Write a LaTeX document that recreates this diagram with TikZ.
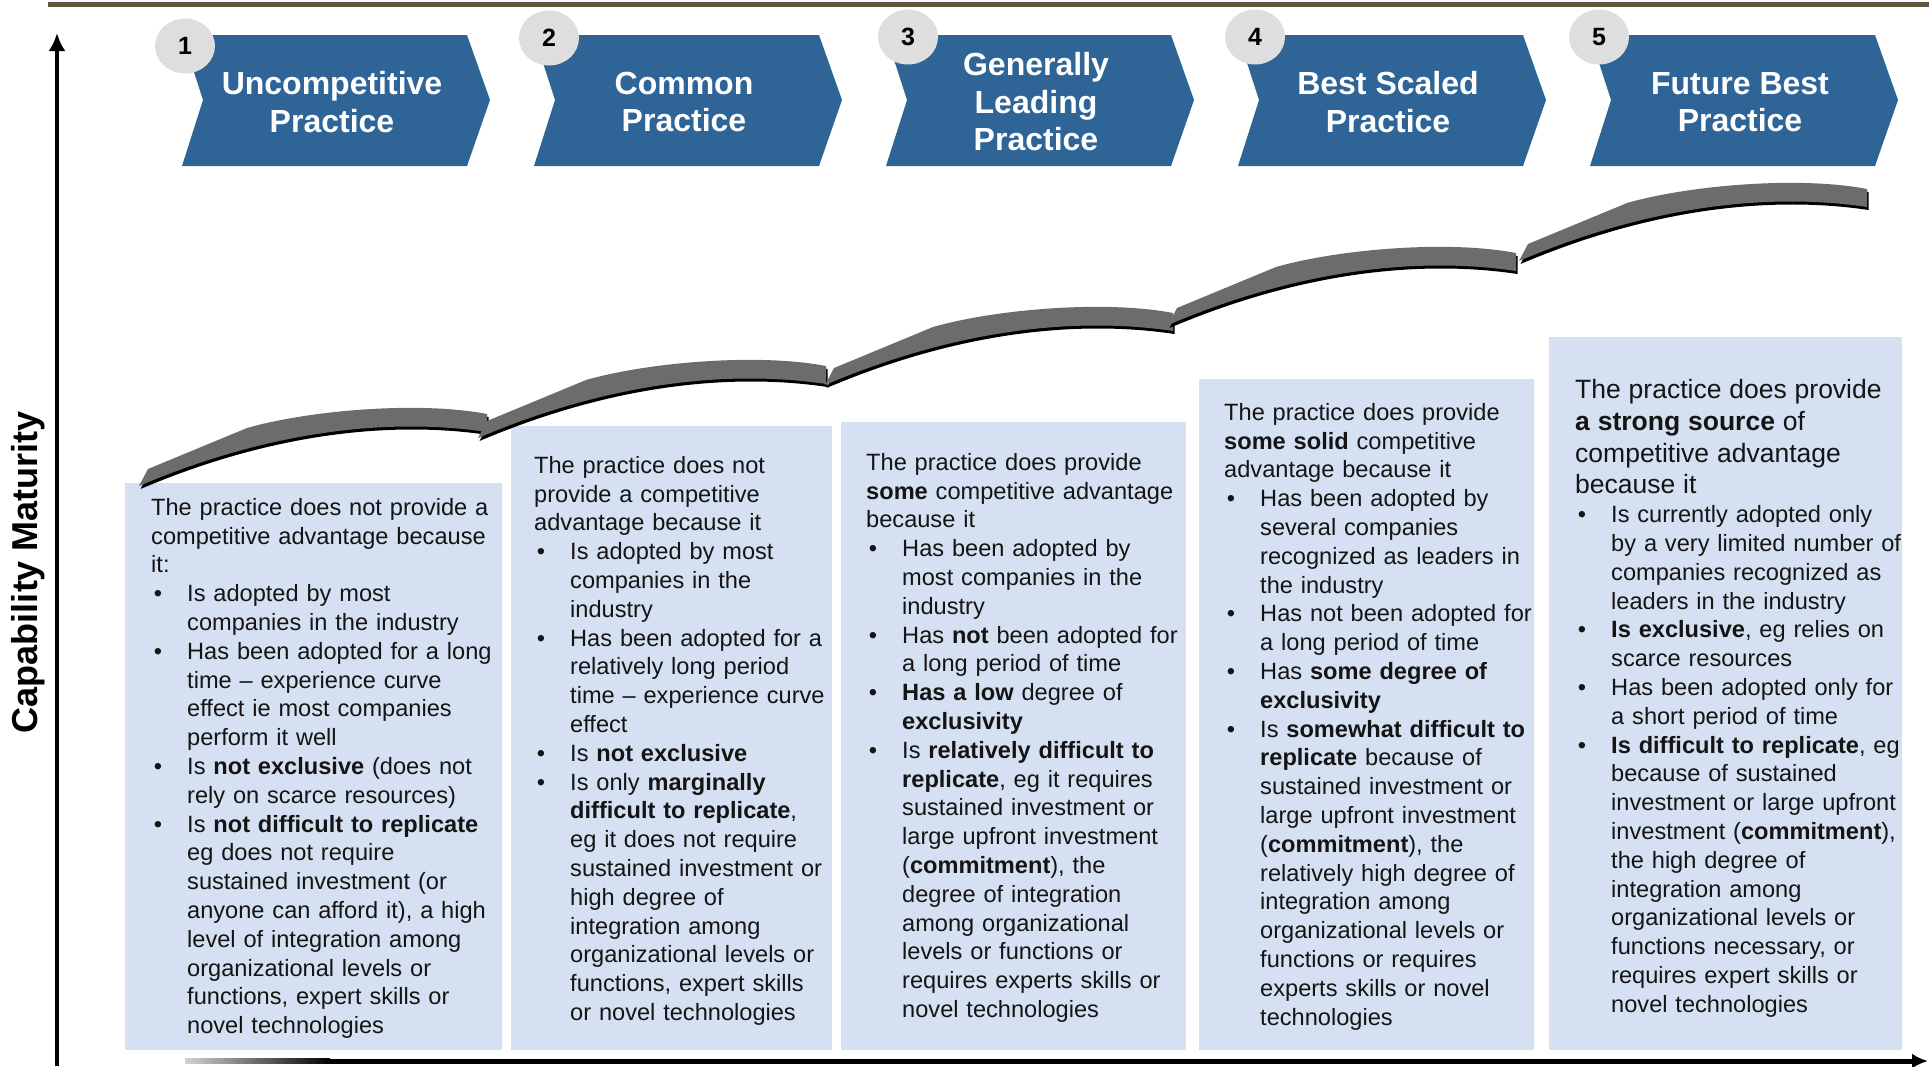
\documentclass[tikz,border=0pt]{standalone}
\usepackage{fontspec}
\setmainfont{Liberation Sans}
\usepackage{enumitem}
\usetikzlibrary{arrows.meta,positioning,shapes.geometric}
\definecolor{cStage}{HTML}{2F6497}
\definecolor{cBadge}{HTML}{DEDEDE}
\definecolor{cPanel}{HTML}{D5E1F2}
\definecolor{cRule}{HTML}{5E5640}
\definecolor{cRibbon}{HTML}{6C6C6C}
\definecolor{cInk}{HTML}{141414}
\setlength\parindent{0pt}
\newlist{pts}{itemize}{1}
\setlist[pts]{label=\textbullet,leftmargin=36pt,labelsep=25pt,
  itemsep=0pt,topsep=0pt,parsep=0pt,partopsep=0pt}
\tikzset{
  stagetext/.style={text=white,align=center,inner sep=0pt,
                    font=\bfseries\fontsize{32}{37.5}\selectfont},
  badge/.style={ellipse,fill=cBadge,minimum width=60pt,minimum height=55pt,
                inner sep=0pt,font=\bfseries\fontsize{25}{25}\selectfont},
  panel/.style={fill=cPanel,anchor=north west,inner sep=0pt},
  blurb/.style={anchor=north west,inner sep=0pt,text width=#1,align=left,
                text=cInk,font=\fontsize{23.6}{28.8}\selectfont},
  ribbon/.style={fill=cRibbon,
                 preaction={fill=black,transform canvas={xshift=1.5pt,yshift=-3pt}}},
  axis/.style={line width=4pt,-{Latex[length=18pt,width=17pt]}},
  axislabel/.style={rotate=90,font=\bfseries\fontsize{36}{40}\selectfont}
}

\begin{document}
\begin{tikzpicture}[x=1pt,y=-1pt]
  \useasboundingbox (0,0) rectangle (1929,1066);
  \draw[cRule,line width=5pt] (48,4) -- (1929,4);

  % axes
  \coordinate (yfoot) at (57,1066);
  \coordinate (ytop) at (57,33);
  \draw[axis] (yfoot) -- (ytop);
  \coordinate (xfoot) at (330,1061);
  \coordinate (xtip) at (1928,1061);
  \shade[left color=gray!35,right color=black] (185,1058.5) rectangle (330,1063.5);
  \draw[axis,line width=5pt,-{Latex[length=16pt,width=15pt]}] (xfoot) -- (xtip);
  \node[axislabel] (ylab) at (28,572) {Capability Maturity};

  % stage chevrons with their numbers
  \foreach \x/\bx/\by/\num/\name in {
      182/185/46/1/{Uncompetitive\\Practice},
      534/549/38/2/{Common\\Practice},
      886/908/37/3/{Generally\\Leading\\Practice},
      1238/1255/37/4/{Best Scaled\\Practice},
      1590/1599/37/5/{Future Best\\Practice}} {
    \fill[cStage] (\x,35) -- ++(285,0) -- ++(23,65) -- ++(-23,66)
      -- ++(-285,0) -- ++(21,-66) -- cycle;
    \node[stagetext] (stage\num) at (\x+150,102) {\name};
    \node[badge] (badge\num) at (\bx,\by) {\num};
  }

  % description panels
  \foreach \n/\x/\y/\w/\h in {1/125/483/377/567, 2/511/426/321/624,
      3/841/422/345/628, 4/1199/379/335/671, 5/1549/337/353/713}
    \node[panel,minimum width=\w pt,minimum height=\h pt] (panel\n) at (\x,\y) {};

  \node[blurb=350pt] (txt1) at ([xshift=26pt,yshift=-15pt]panel1.north west) {%
    The practice does not provide a\\
    competitive advantage because\\
    it:
    \begin{pts}
      \item Is adopted by most\\companies in the industry
      \item Has been adopted for a long\\time – experience curve\\effect ie most companies\\perform it well
      \item Is \textbf{not exclusive} (does not\\rely on scarce resources)
      \item Is \textbf{not difficult to replicate}\\eg does not require\\sustained investment (or\\anyone can afford it), a high\\level of integration among\\organizational levels or\\functions, expert skills or\\novel technologies
    \end{pts}};

  \node[blurb=310pt] (txt2) at ([xshift=23pt,yshift=-30pt]panel2.north west) {%
    The practice does not\\
    provide a competitive\\
    advantage because it
    \begin{pts}
      \item Is adopted by most\\companies in the\\industry
      \item Has been adopted for a\\relatively long period\\time – experience curve\\effect
      \item Is \textbf{not exclusive}
      \item Is only \textbf{marginally}\\\textbf{difficult to replicate},\\eg it does not require\\sustained investment or\\high degree of\\integration among\\organizational levels or\\functions, expert skills\\or novel technologies
    \end{pts}};

  \node[blurb=330pt] (txt3) at ([xshift=25pt,yshift=-31pt]panel3.north west) {%
    The practice does provide\\
    \textbf{some} competitive advantage\\
    because it
    \begin{pts}
      \item Has been adopted by\\most companies in the\\industry
      \item Has \textbf{not} been adopted for\\a long period of time
      \item \textbf{Has a low} degree of\\\textbf{exclusivity}
      \item Is \textbf{relatively difficult to}\\\textbf{replicate}, eg it requires\\sustained investment or\\large upfront investment\\(\textbf{commitment}), the\\degree of integration\\among organizational\\levels or functions or\\requires experts skills or\\novel technologies
    \end{pts}};

  \node[blurb=325pt] (txt4) at ([xshift=25pt,yshift=-24pt]panel4.north west) {%
    The practice does provide\\
    \textbf{some solid} competitive\\
    advantage because it
    \begin{pts}
      \item Has been adopted by\\several companies\\recognized as leaders in\\the industry
      \item Has not been adopted for\\a long period of time
      \item Has \textbf{some degree of}\\\textbf{exclusivity}
      \item Is \textbf{somewhat difficult to}\\\textbf{replicate} because of\\sustained investment or\\large upfront investment\\(\textbf{commitment}), the\\relatively high degree of\\integration among\\organizational levels or\\functions or requires\\experts skills or novel\\technologies
    \end{pts}};

  \node[blurb=340pt] (txt5) at ([xshift=26pt,yshift=-42pt]panel5.north west) {%
    {\fontsize{26.5}{31.8}\selectfont
    The practice does provide\\
    \textbf{a strong source} of\\
    competitive advantage\\
    because it\par}
    \begin{pts}
      \item Is currently adopted only\\by a very limited number of\\companies recognized as\\leaders in the industry
      \item \textbf{Is exclusive}, eg relies on\\scarce resources
      \item Has been adopted only for\\a short period of time
      \item \textbf{Is difficult to replicate}, eg\\because of sustained\\investment or large upfront\\investment (\textbf{commitment}),\\the high degree of\\integration among\\organizational levels or\\functions necessary, or\\requires expert skills or\\novel technologies
    \end{pts}};

  % rising steps
  \foreach \dx/\dy in {0/0, 339/-48, 686/-101, 1029/-161, 1380/-225} {
    \begin{scope}[shift={(\dx,\dy)}]
      \fill[ribbon] (139,486) -- (148,469) -- (247,428)
        .. controls (310,410) and (420,401) .. (487,414)
        -- (487,432) .. controls (400,419) and (280,426) .. (139,486) -- cycle;
    \end{scope}
  }
\end{tikzpicture}
\end{document}
